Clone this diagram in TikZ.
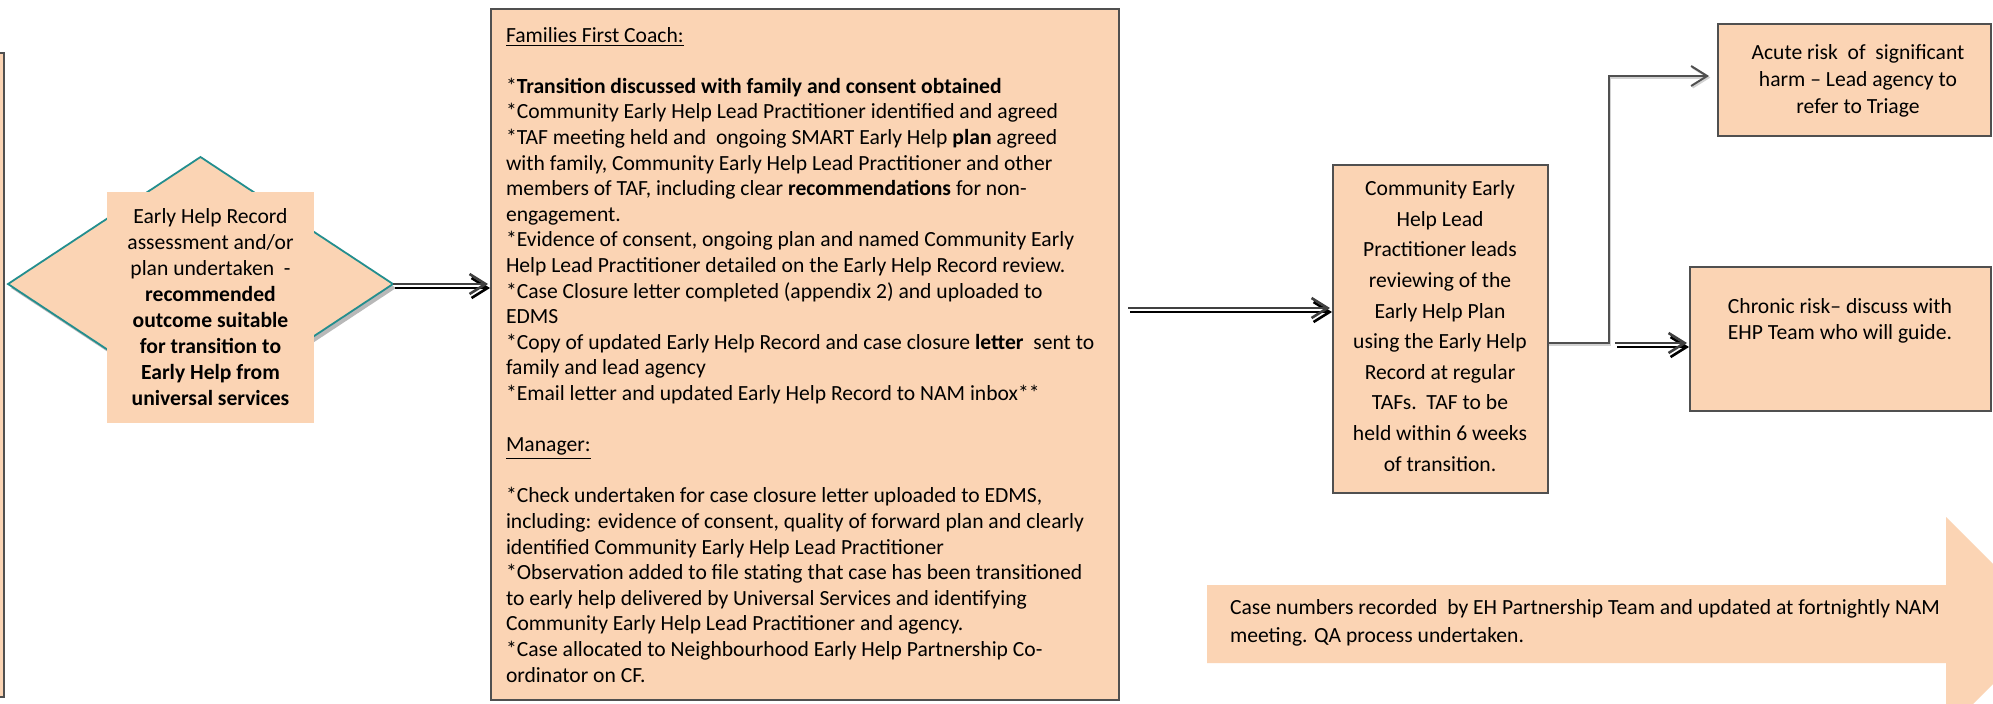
\documentclass[tikz,border=0pt]{standalone}
\usepackage{fontspec}
\setmainfont{Carlito}
\usetikzlibrary{arrows.meta,shapes.geometric,calc}

\definecolor{peach}{HTML}{FBD4B4}
\definecolor{edge}{HTML}{505050}
\definecolor{tealline}{HTML}{238E8E}
\definecolor{shade}{HTML}{A6A6A6}
\definecolor{ink}{HTML}{404040}

% font size with a chosen line spacing
\newcommand\setfs[1]{\fontsize{10.8pt}{#1}\selectfont}

\tikzset{
  box/.style={draw=edge, line width=1.1pt, fill=peach, inner sep=0pt, outer sep=0pt},
  txt/.style={inner sep=0pt, outer sep=0pt},
  openhead/.style={-{Straight Barb[length=8pt,width=10pt]}},
  dbl/.style={ink, line width=1.3pt, openhead},
  dblshade/.style={shade, line width=1.3pt, openhead, transform canvas={xshift=1pt,yshift=-2pt}},
  elbow/.style={edge, line width=1pt, openhead},
  elbowshade/.style={gray!35, line width=1pt, openhead, transform canvas={xshift=0.7pt,yshift=-0.8pt}},
}

\begin{document}
\begin{tikzpicture}[x=0.5pt,y=-0.5pt]
\useasboundingbox (0,0) rectangle (1993,703);
\fill[white] (0,0) rectangle (1993,703);
\clip (0,0) rectangle (1993,703);

% box cut off at the left edge
\path[box] (-20,53) rectangle (4,697);

% decision diamond with its shadow and text panel
\node[diamond, fill=shade!80, minimum width=192.5pt, minimum height=127pt, inner sep=0pt, outer sep=0pt] (diashadow) at (203.5,288) {};
\node[diamond, draw=tealline, line width=0.9pt, fill=peach, minimum width=192.5pt, minimum height=127pt, inner sep=0pt, outer sep=0pt] (dia) at (200.5,284) {};
\node[fill=peach, minimum width=103.5pt, minimum height=115.5pt, inner sep=0pt, align=center, font=\setfs{13pt}] (diatext) at (210.5,307.5)
 {Early Help Record\\assessment and/or\\plan undertaken\ \ -\\\textbf{recommended}\\\textbf{outcome suitable}\\\textbf{for transition to}\\\textbf{Early Help from}\\\textbf{universal services}};

% Families First Coach / Manager box
\node[box, minimum width=314pt, minimum height=345.5pt] (main) at (805,354.5) {};
\node[txt, anchor=north west, align=left, font=\setfs{12.8pt}] (maintext) at (506,27)
 {\underline{Families First Coach:}\\[12.8pt]
 {}*\textbf{Transition discussed with family and consent obtained}\\
 {}*Community Early Help Lead Practitioner identified and agreed\\
 {}*TAF meeting held and\ \ ongoing SMART Early Help \textbf{plan} agreed\\
 with family, Community Early Help Lead Practitioner and other\\
 members of TAF, including clear \textbf{recommendations} for non-\\
 engagement.\\
 {}*Evidence of consent, ongoing plan and named Community Early\\
 Help Lead Practitioner detailed on the Early Help Record review.\\
 {}*Case Closure letter completed (appendix 2) and uploaded to\\
 EDMS\\
 {}*Copy of updated Early Help Record and case closure \textbf{letter}\ \ sent to\\
 family and lead agency\\
 {}*Email letter and updated Early Help Record to NAM inbox**\\[12.8pt]
 \underline{Manager:}\\[12.8pt]
 {}*Check undertaken for case closure letter uploaded to EDMS,\\
 including: evidence of consent, quality of forward plan and clearly\\
 identified Community Early Help Lead Practitioner\\
 {}*Observation added to file stating that case has been transitioned\\
 to early help delivered by Universal Services and identifying\\
 Community Early Help Lead Practitioner and agency.\\
 {}*Case allocated to Neighbourhood Early Help Partnership Co-\\
 ordinator on CF.};

% lead practitioner box
\node[box, minimum width=107.5pt, minimum height=164pt] (ceh) at (1440.5,329) {};
\node[txt, align=center, font=\setfs{15.3pt}] (cehtext) at (1440,326)
 {Community Early\\Help Lead\\Practitioner leads\\reviewing of the\\Early Help Plan\\using the Early Help\\Record at regular\\TAFs.\ \ TAF to be\\held within 6 weeks\\of transition.};

% risk outcomes
\node[box, minimum width=136.5pt, minimum height=56pt] (acute) at (1854.5,80) {};
\node[txt, align=center, font=\setfs{13.5pt}] (acutetext) at (1858,81)
 {Acute risk\ \ of\ \ significant\\harm – Lead agency to\\refer to Triage};
\node[box, minimum width=150.5pt, minimum height=72pt] (chronic) at (1840.5,339) {};
\node[txt, align=center, font=\setfs{13pt}] (chronictext) at (1840,321)
 {Chronic risk– discuss with\\EHP Team who will guide.};

% block arrow along the bottom
\fill[peach] (1207,585) -- (1946,585) -- (1946,517) -- (2053,624) -- (1946,731) -- (1946,663) -- (1207,663) -- cycle;
\node[txt, anchor=west, align=left, font=\setfs{14pt}] (casenote) at (1230,623)
 {Case numbers recorded\ \ by EH Partnership Team and updated at fortnightly NAM\\meeting. QA process undertaken.};

% connector levels
\coordinate (lvlA) at (0,308);
\coordinate (lvlB) at (0,343);
\coordinate (lvlC) at (0,76);
\coordinate (bend) at (1609,0);

% diamond to coach box
\draw[dblshade, shorten >=1.5pt] (dia.east) -- (dia.east -| main.west);
\draw[dbl, shorten >=1.5pt] (dia.east) -- (dia.east -| main.west);

% coach box to lead practitioner box
\draw[dblshade, shorten <=4.5pt, shorten >=1.5pt] (main.east |- lvlA) -- (ceh.west |- lvlA);
\draw[dbl, shorten <=4.5pt, shorten >=1.5pt] (main.east |- lvlA) -- (ceh.west |- lvlA);

% elbow up to acute risk
\draw[elbowshade, shorten >=4.5pt] (ceh.east |- lvlB) -| (bend |- lvlC) -- (acute.west |- lvlC);
\draw[elbow, shorten >=4.5pt] (ceh.east |- lvlB) -| (bend |- lvlC) -- (acute.west |- lvlC);

% on to chronic risk
\draw[dblshade, shorten <=3pt, shorten >=1.5pt] (bend |- lvlB) -- (chronic.west |- lvlB);
\draw[dbl, shorten <=3pt, shorten >=1.5pt] (bend |- lvlB) -- (chronic.west |- lvlB);
\end{tikzpicture}
\end{document}
